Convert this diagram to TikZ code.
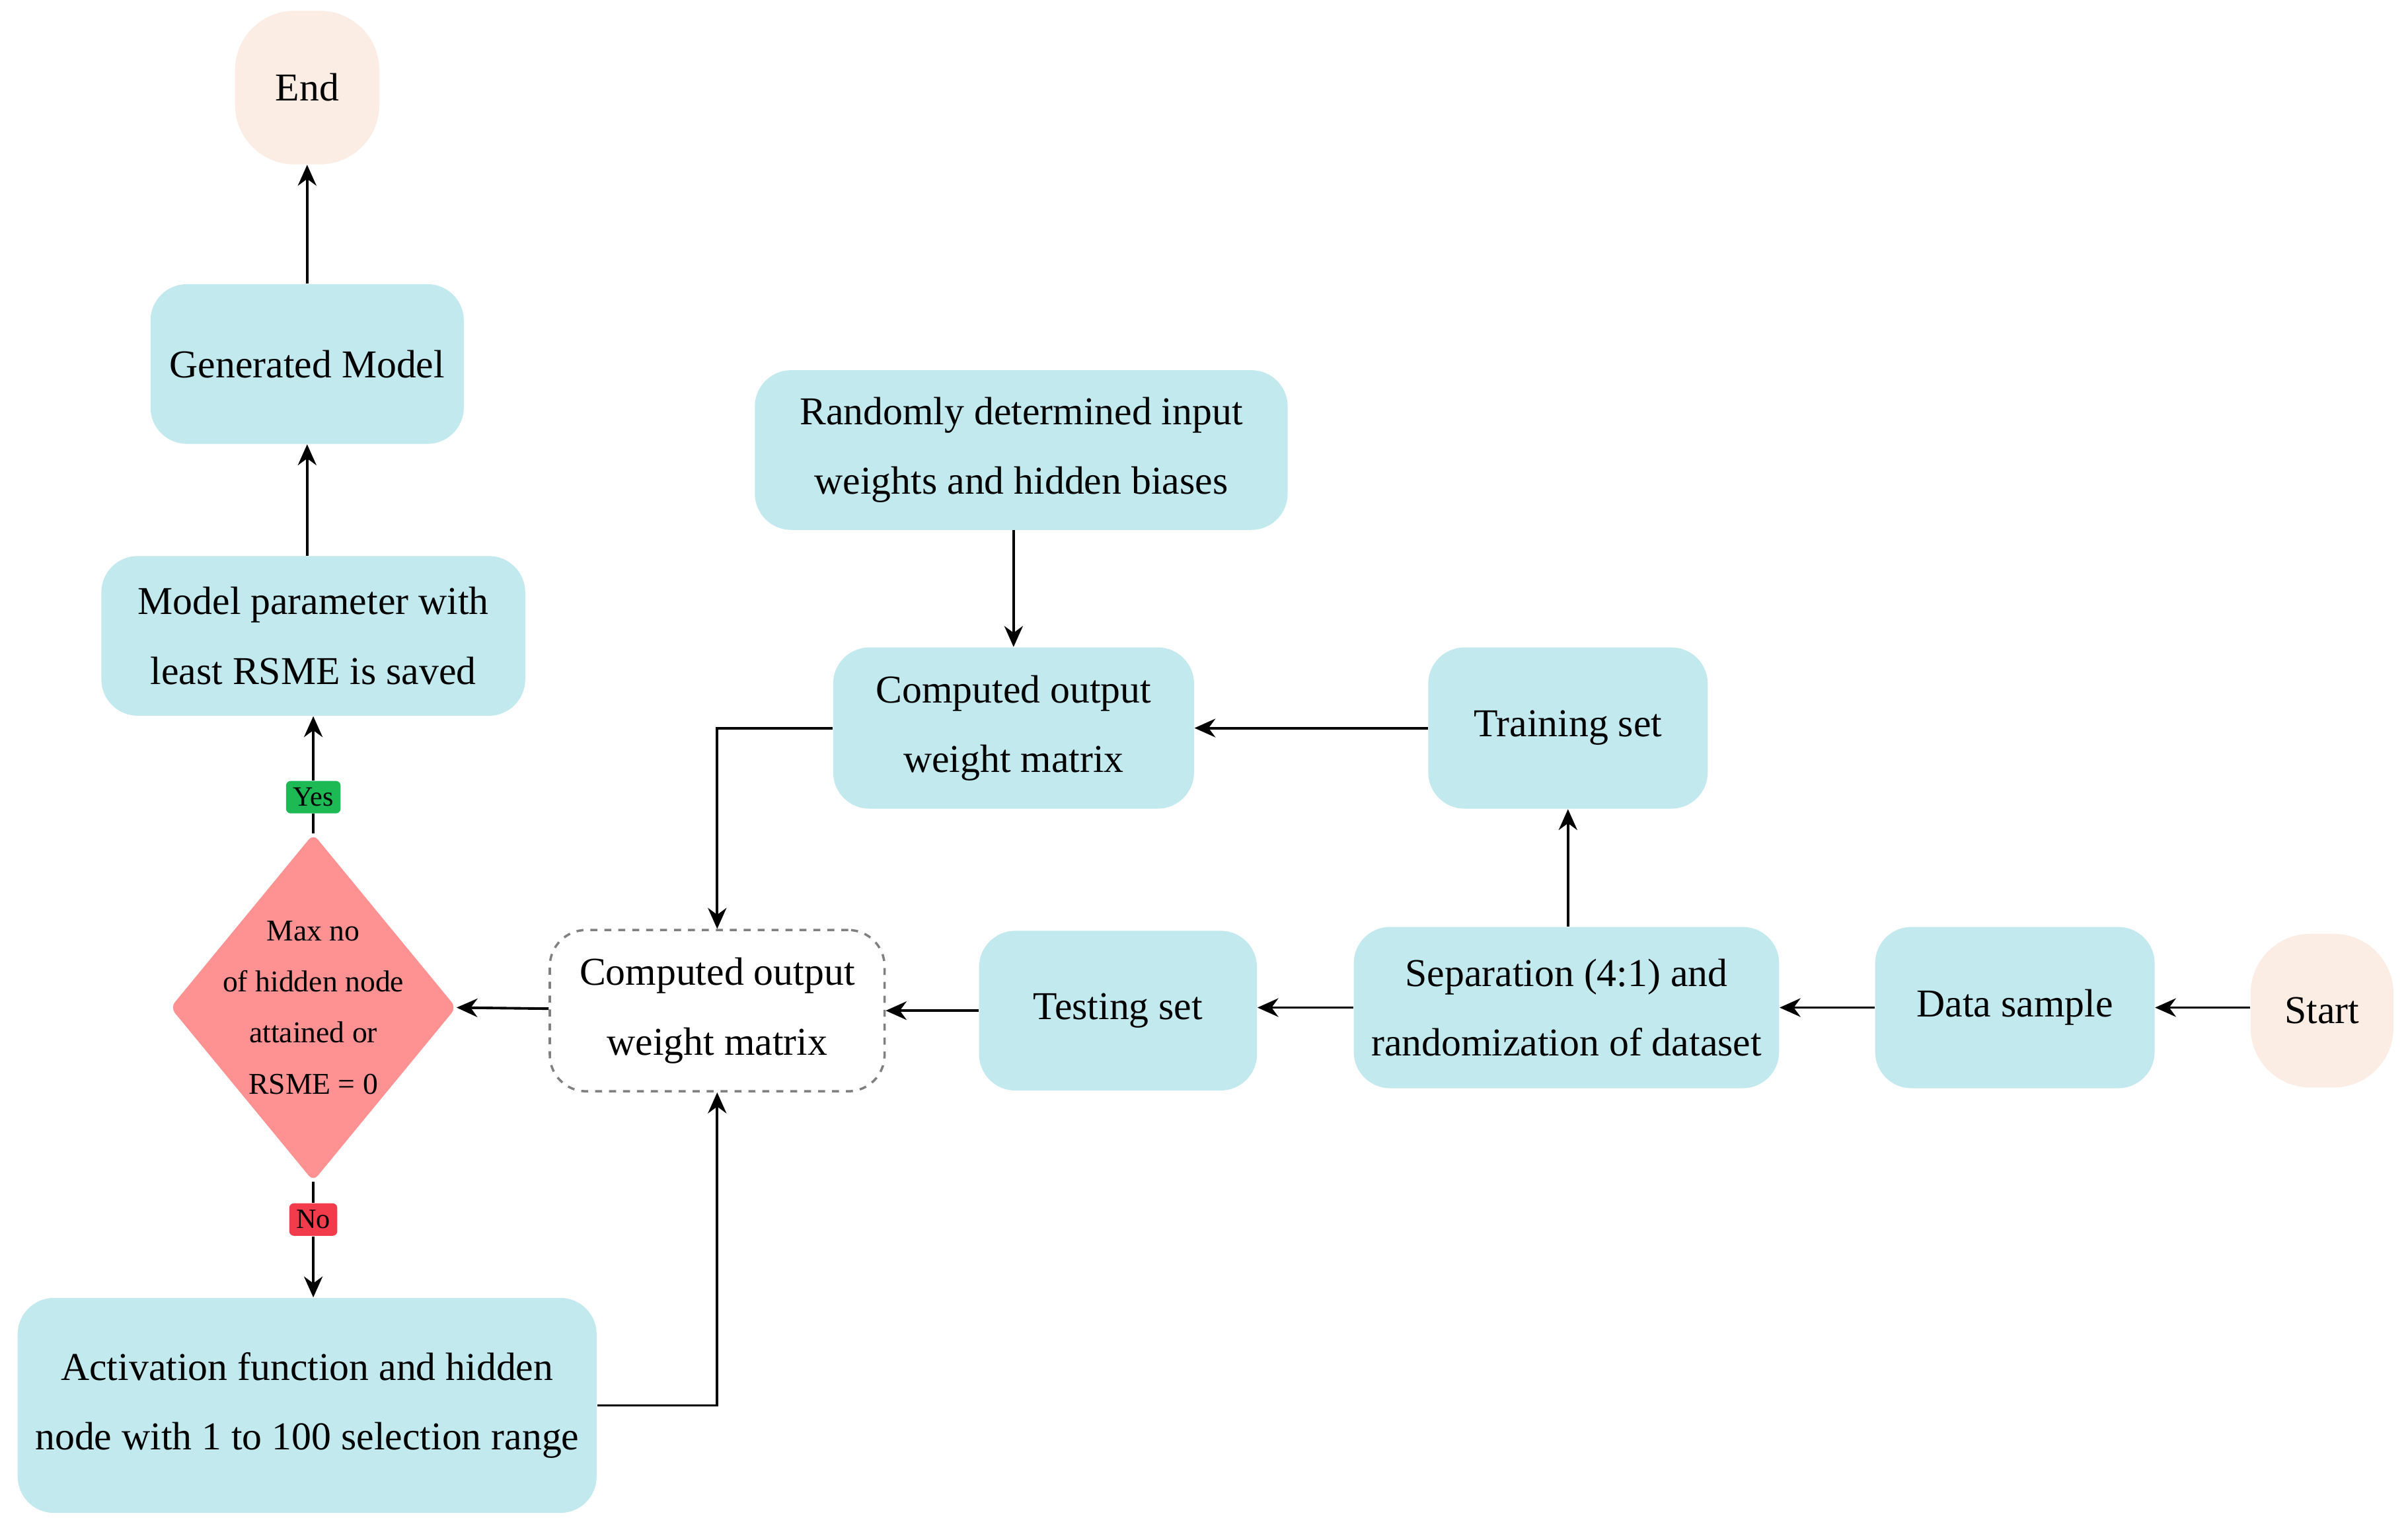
\documentclass[tikz,border=0pt]{standalone}
\usepackage{fontspec}
\setmainfont{Liberation Serif}
\usetikzlibrary{shapes.geometric,arrows.meta}
\definecolor{box}{HTML}{C2E9EE}
\definecolor{term}{HTML}{FBEDE3}
\definecolor{dia}{HTML}{FE9191}
\definecolor{yesc}{HTML}{1DB954}
\definecolor{noc}{HTML}{F23B4B}
\begin{document}
\begin{tikzpicture}[x=0.02324cm,y=-0.02324cm,
  font=\fontsize{17}{30}\selectfont,
  b/.style={rectangle,rounded corners=0.55cm,fill=box,align=center,inner sep=0pt},
  t/.style={rectangle,rounded corners=0.9cm,fill=term,inner sep=0pt},
  lab/.style={rectangle,rounded corners=2pt,text=black,font=\fontsize{12}{14}\selectfont,inner sep=3pt},
  ar/.style={-{Stealth[length=9pt,width=8pt]},line width=1.1pt}]
\useasboundingbox (0,0) rectangle (1568,996);
\node[t,minimum width=94*0.02324cm,minimum height=100*0.02324cm] (end) at (200,57) {End};
\node[b,minimum width=204*0.02324cm,minimum height=104*0.02324cm] (gen) at (200,237) {Generated Model};
\node[b,minimum width=276*0.02324cm,minimum height=104*0.02324cm] (mp) at (204,414) {Model parameter with\\least RSME is saved};
\node[lab,fill=yesc] (yes) at (204,519) {Yes};
\fill[dia,rounded corners=3pt] (204,543) -- (297,656) -- (204,769) -- (111,656) -- cycle;
\node[rectangle,inner sep=0pt,align=center,minimum width=186*0.02324cm,minimum height=226*0.02324cm,font=\fontsize{13}{22}\selectfont] (dia) at (204,656) {Max no\\of hidden node\\attained or\\RSME = 0};
\node[lab,fill=noc] (no) at (204,794) {No};
\node[b,minimum width=377*0.02324cm,minimum height=140*0.02324cm] (act) at (200,915) {Activation function and hidden\\node with 1 to 100 selection range};
\node[rectangle,rounded corners=0.55cm,draw=gray,dashed,line width=1pt,fill=white,align=center,minimum width=218*0.02324cm,minimum height=105*0.02324cm] (cd) at (467,658) {Computed output\\weight matrix};
\node[b,minimum width=235*0.02324cm,minimum height=105*0.02324cm] (ct) at (660,474) {Computed output\\weight matrix};
\node[b,minimum width=347*0.02324cm,minimum height=104*0.02324cm] (rnd) at (665,293) {Randomly determined input\\weights and hidden biases};
\node[b,minimum width=182*0.02324cm,minimum height=105*0.02324cm] (tr) at (1021,474) {Training set};
\node[b,minimum width=181*0.02324cm,minimum height=104*0.02324cm] (te) at (728,658) {Testing set};
\node[b,minimum width=277*0.02324cm,minimum height=105*0.02324cm] (sep) at (1020,656) {Separation (4:1) and\\randomization of dataset};
\node[b,minimum width=182*0.02324cm,minimum height=105*0.02324cm] (ds) at (1312,656) {Data sample};
\node[t,minimum width=93*0.02324cm,minimum height=100*0.02324cm] (st) at (1512,658) {Start};
\draw[ar] (st.west |- ds) -- (ds);
\draw[ar] (ds) -- (sep);
\draw[ar] (sep.north -| tr) -- (tr);
\draw[ar] (sep) -- (te.east |- sep);
\draw[ar] (te) -- (cd);
\draw[ar] (tr) -- (ct);
\draw[ar] (rnd.south -| ct) -- (ct);
\draw[ar] (ct.west) -| (cd.north);
\draw[ar] (cd) -- (dia.east);
\draw[line width=1.1pt] (dia.north) -- (yes);
\draw[ar] (yes) -- (mp);
\draw[line width=1.1pt] (dia.south) -- (no);
\draw[ar] (no) -- (act.north -| no);
\draw[ar] (act.east) -| (cd.south);
\draw[ar] (mp.north -| gen) -- (gen);
\draw[ar] (gen) -- (end);
\end{tikzpicture}
\end{document}
